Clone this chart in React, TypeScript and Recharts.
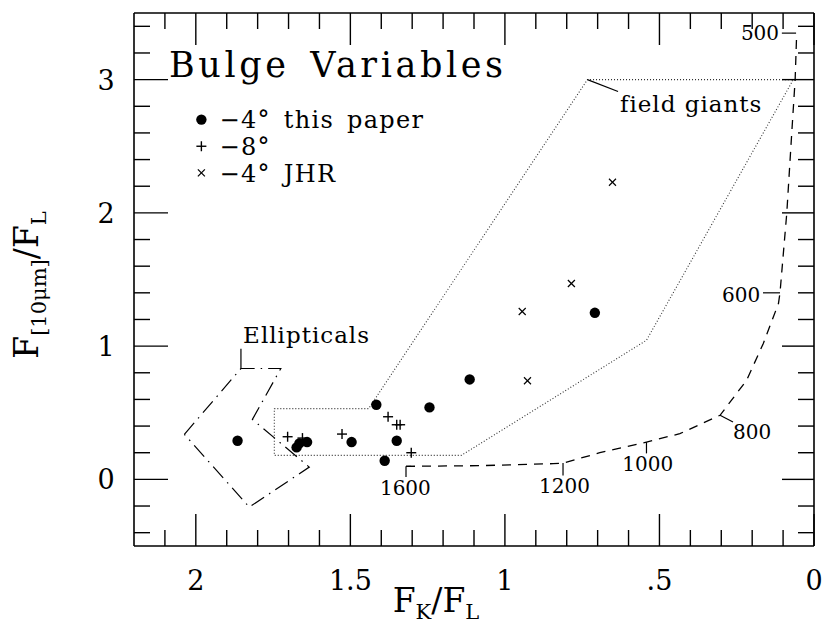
import { ScatterChart, Scatter, XAxis, YAxis } from 'recharts';

// F_K/F_L vs F[10um]/F_L for bulge variables
const thisPaperFK = [1.865, 1.674, 1.665, 1.64, 1.496, 1.416, 1.389, 1.35, 1.244, 1.114, 0.709];
const thisPaperF10 = [0.29, 0.24, 0.27, 0.28, 0.28, 0.56, 0.14, 0.29, 0.54, 0.75, 1.25];

const minus8FK = [1.703, 1.655, 1.527, 1.378, 1.35, 1.339, 1.303];
const minus8F10 = [0.32, 0.31, 0.34, 0.47, 0.41, 0.41, 0.2];

const jhrFK = [0.652, 0.785, 0.944, 0.927];
const jhrF10 = [2.23, 1.47, 1.26, 0.74];

// outline of the field giant region (dotted)
const giantsFK = [1.746, 1.441, 0.733, 0.067, 0.542, 1.141, 1.746, 1.746];
const giantsF10 = [0.531, 0.531, 3.0, 3.0, 1.044, 0.18, 0.18, 0.531];

// outline of the ellipticals (dash-dot)
const ellFK = [2.037, 1.854, 1.725, 1.817, 1.633, 1.827, 2.037];
const ellF10 = [0.338, 0.832, 0.832, 0.45, 0.092, -0.208, 0.338];

// blackbody track (dashed), temperatures marked along it
const bbFK = [1.32, 1.082, 0.844, 0.812, 0.693, 0.542, 0.434, 0.304, 0.218, 0.164, 0.115, 0.11, 0.088, 0.072, 0.061, 0.056];
const bbF10 = [0.098, 0.103, 0.118, 0.122, 0.2, 0.28, 0.343, 0.481, 0.744, 1.02, 1.32, 1.4, 2.0, 2.6, 3.0, 3.35];

const tempLabels = ['500', '600', '800', '1000', '1200', '1600'];
const tempLabelFK = [0.113, 0.174, 0.262, 0.538, 0.807, 1.322];
const tempLabelF10 = [3.298, 1.33, 0.3, 0.062, -0.103, -0.12];
const tempAnchor = ['end', 'end', 'start', 'middle', 'middle', 'middle'];
// short marks joining each label to the track
const tempMarks = [
  [[0.104, 3.349], [0.058, 3.349]],
  [[0.165, 1.4], [0.11, 1.4]],
  [[0.304, 0.481], [0.262, 0.43]],
  [[0.542, 0.28], [0.542, 0.195]],
  [[0.812, 0.122], [0.812, 0.03]],
  [[1.32, 0.098], [1.32, 0.017]],
  [[1.32, 0.098], [1.303, 0.098]],
];

const xTicks = [0, 0.1, 0.2, 0.3, 0.4, 0.5, 0.6, 0.7, 0.8, 0.9, 1, 1.1, 1.2, 1.3, 1.4, 1.5, 1.6, 1.7, 1.8, 1.9, 2, 2.1];
const yTicks = [-0.4, -0.2, 0, 0.2, 0.4, 0.6, 0.8, 1, 1.2, 1.4, 1.6, 1.8, 2, 2.2, 2.4, 2.6, 2.8, 3, 3.2, 3.4];

const FONT = '"DejaVu Serif", serif';
const W = 824;
const H = 628;

const zip = (xs: number[], ys: number[], extra: any = {}) => xs.map((x, i) => ({ x, y: ys[i], ...extra }));

const isMajorX = (v: number) => Math.abs(v * 2 - Math.round(v * 2)) < 1e-6;
const isMajorY = (v: number) => Math.abs(v - Math.round(v)) < 1e-6;
const fmtX = (v: number) => (v > 0 && v < 1 ? String(v).slice(1) : String(v));

const BottomTick = ({ x, y, payload }: any) => {
  const major = isMajorX(payload.value);
  return (
    <g>
      <line x1={x} x2={x} y1={y} y2={y - (major ? 32 : 16)} stroke="#000" strokeWidth={1.4} />
      {major && (
        <text x={x} y={y + 44} textAnchor="middle" fontFamily={FONT} fontSize={27} fill="#000">
          {fmtX(payload.value)}
        </text>
      )}
    </g>
  );
};

const TopTick = ({ x, y, payload }: any) => {
  const major = isMajorX(payload.value);
  return <line x1={x} x2={x} y1={y} y2={y + (major ? 32 : 16)} stroke="#000" strokeWidth={1.4} />;
};

const LeftTick = ({ x, y, payload }: any) => {
  const major = isMajorY(payload.value);
  return (
    <g>
      <line x1={x} x2={x + (major ? 34 : 16)} y1={y} y2={y} stroke="#000" strokeWidth={1.4} />
      {major && (
        <text x={x - 28} y={y + 10} textAnchor="middle" fontFamily={FONT} fontSize={27} fill="#000">
          {payload.value}
        </text>
      )}
    </g>
  );
};

const RightTick = ({ x, y, payload }: any) => {
  const major = isMajorY(payload.value);
  return <line x1={x} x2={x - (major ? 32 : 16)} y1={y} y2={y} stroke="#000" strokeWidth={1.4} />;
};

const XTitle = ({ viewBox }: any) => (
  <text x={viewBox.x + 302} y={viewBox.y + 66} textAnchor="middle" fontFamily={FONT} fontSize={33} fill="#000">
    F<tspan fontSize={21} dy={7}>K</tspan>
    <tspan dy={-7}>/F</tspan>
    <tspan fontSize={21} dy={7}>L</tspan>
  </text>
);

const YTitle = ({ viewBox }: any) => {
  const cx = 38;
  const cy = viewBox.y + 272;
  return (
    <text
      x={cx}
      y={cy}
      transform={`rotate(-90 ${cx} ${cy})`}
      textAnchor="middle"
      fontFamily={FONT}
      fontSize={33}
      fill="#000"
    >
      F<tspan fontSize={21} dy={8}>[10μm]</tspan>
      <tspan dy={-8}>/F</tspan>
      <tspan fontSize={21} dy={8}>L</tspan>
    </text>
  );
};

const blank = () => <g />;

const Dot = ({ cx, cy }: any) => <circle cx={cx} cy={cy} r={5.2} fill="#000" />;
const Plus = ({ cx, cy }: any) => (
  <g stroke="#000" strokeWidth={1.4}>
    <line x1={cx - 5} x2={cx + 5} y1={cy} y2={cy} />
    <line x1={cx} x2={cx} y1={cy - 5} y2={cy + 5} />
  </g>
);
const Cross = ({ cx, cy }: any) => (
  <g stroke="#000" strokeWidth={1.2}>
    <line x1={cx - 3.5} x2={cx + 3.5} y1={cy - 3.5} y2={cy + 3.5} />
    <line x1={cx - 3.5} x2={cx + 3.5} y1={cy + 3.5} y2={cy - 3.5} />
  </g>
);

const Label = ({ cx, cy, payload }: any) => (
  <text
    x={cx}
    y={cy}
    textAnchor={payload.anchor ?? 'start'}
    fontFamily={FONT}
    fontSize={payload.size}
    letterSpacing={payload.spacing ?? 0}
    wordSpacing={payload.wordSpacing ?? 0}
    fill="#000"
  >
    {payload.text}
  </text>
);

// legend rows: symbol position and text baseline
const legendFK = 1.982;
const legendTextFK = 1.923;
const legendF10 = [2.7, 2.5, 2.3];
const legendText = ['−4° this paper', '−8°', '−4° JHR'];

const annotations = [
  { x: 2.087, y: 3.022, text: 'Bulge Variables', size: 35, spacing: 3.6, wordSpacing: 6 },
  { x: 0.628, y: 2.76, text: 'field giants', size: 23, spacing: 1 },
  { x: 1.847, y: 1.022, text: 'Ellipticals', size: 23, spacing: 1 },
  ...legendText.map((t, i) => ({
    x: legendTextFK,
    y: legendF10[i] - 0.065,
    text: t,
    size: 24,
    spacing: 1.3,
    wordSpacing: 4,
  })),
  ...tempLabels.map((t, i) => ({ x: tempLabelFK[i], y: tempLabelF10[i], text: t, size: 20, anchor: tempAnchor[i] })),
];

const leaders = [
  [[0.733, 3.0], [0.634, 2.911]],
  [[1.854, 0.98], [1.854, 0.832]],
  ...tempMarks,
];

export default function App() {
  const lineStyle = { stroke: '#000', strokeWidth: 1.2 };
  return (
    <div style={{ position: 'absolute', left: 0, top: 0, background: '#fff' }}>
      <ScatterChart width={W} height={H} margin={{ top: 12, right: 9, bottom: 22, left: 0 }}>
        <XAxis
          xAxisId="b"
          dataKey="x"
          type="number"
          domain={[0, 2.2]}
          reversed
          ticks={xTicks}
          interval={0}
          tickSize={0}
          tickMargin={0}
          tickLine={false}
          tick={<BottomTick />}
          height={60}
          axisLine={{ stroke: '#000', strokeWidth: 1.6 }}
          label={<XTitle />}
        />
        <XAxis
          xAxisId="t"
          dataKey="x"
          orientation="top"
          type="number"
          domain={[0, 2.2]}
          reversed
          ticks={xTicks}
          interval={0}
          tickSize={0}
          tickMargin={0}
          tickLine={false}
          tick={<TopTick />}
          height={1}
          axisLine={{ stroke: '#000', strokeWidth: 1.6 }}
        />
        <YAxis
          yAxisId="l"
          dataKey="y"
          type="number"
          domain={[-0.5, 3.5]}
          ticks={yTicks}
          interval={0}
          tickSize={0}
          tickMargin={0}
          tickLine={false}
          tick={<LeftTick />}
          width={134}
          axisLine={{ stroke: '#000', strokeWidth: 1.6 }}
          label={<YTitle />}
        />
        <YAxis
          yAxisId="r"
          dataKey="y"
          orientation="right"
          type="number"
          domain={[-0.5, 3.5]}
          ticks={yTicks}
          interval={0}
          tickSize={0}
          tickMargin={0}
          tickLine={false}
          tick={<RightTick />}
          width={1}
          axisLine={{ stroke: '#000', strokeWidth: 1.6 }}
        />

        {/* keeps the top and right frame axes attached to a series */}
        <Scatter xAxisId="t" yAxisId="r" data={[{ x: 0, y: -0.5 }, { x: 2.2, y: 3.5 }]} shape={blank} isAnimationActive={false} />

        <Scatter
          xAxisId="b"
          yAxisId="l"
          data={zip(giantsFK, giantsF10)}
          line={{ stroke: '#333', strokeWidth: 1.1, strokeDasharray: '1 2' }}
          shape={blank}
          isAnimationActive={false}
        />
        <Scatter
          xAxisId="b"
          yAxisId="l"
          data={zip(ellFK, ellF10)}
          line={{ stroke: '#000', strokeWidth: 1.2, strokeDasharray: '15 6 1.5 6' }}
          shape={blank}
          isAnimationActive={false}
        />
        <Scatter
          xAxisId="b"
          yAxisId="l"
          data={zip(bbFK, bbF10)}
          line={{ stroke: '#000', strokeWidth: 1.3, strokeDasharray: '9 7' }}
          shape={blank}
          isAnimationActive={false}
        />
        {leaders.map((seg, i) => (
          <Scatter
            key={`lead-${i}`}
            xAxisId="b"
            yAxisId="l"
            data={seg.map(([x, y]) => ({ x, y }))}
            line={lineStyle}
            shape={blank}
            isAnimationActive={false}
          />
        ))}

        <Scatter xAxisId="b" yAxisId="l" data={zip(thisPaperFK, thisPaperF10)} shape={<Dot />} isAnimationActive={false} />
        <Scatter xAxisId="b" yAxisId="l" data={zip(minus8FK, minus8F10)} shape={<Plus />} isAnimationActive={false} />
        <Scatter xAxisId="b" yAxisId="l" data={zip(jhrFK, jhrF10)} shape={<Cross />} isAnimationActive={false} />

        {/* legend symbols */}
        <Scatter xAxisId="b" yAxisId="l" data={[{ x: legendFK, y: legendF10[0] }]} shape={<Dot />} isAnimationActive={false} />
        <Scatter xAxisId="b" yAxisId="l" data={[{ x: legendFK, y: legendF10[1] }]} shape={<Plus />} isAnimationActive={false} />
        <Scatter xAxisId="b" yAxisId="l" data={[{ x: legendFK, y: legendF10[2] }]} shape={<Cross />} isAnimationActive={false} />

        <Scatter xAxisId="b" yAxisId="l" data={annotations} shape={<Label />} isAnimationActive={false} />
      </ScatterChart>
    </div>
  );
}
